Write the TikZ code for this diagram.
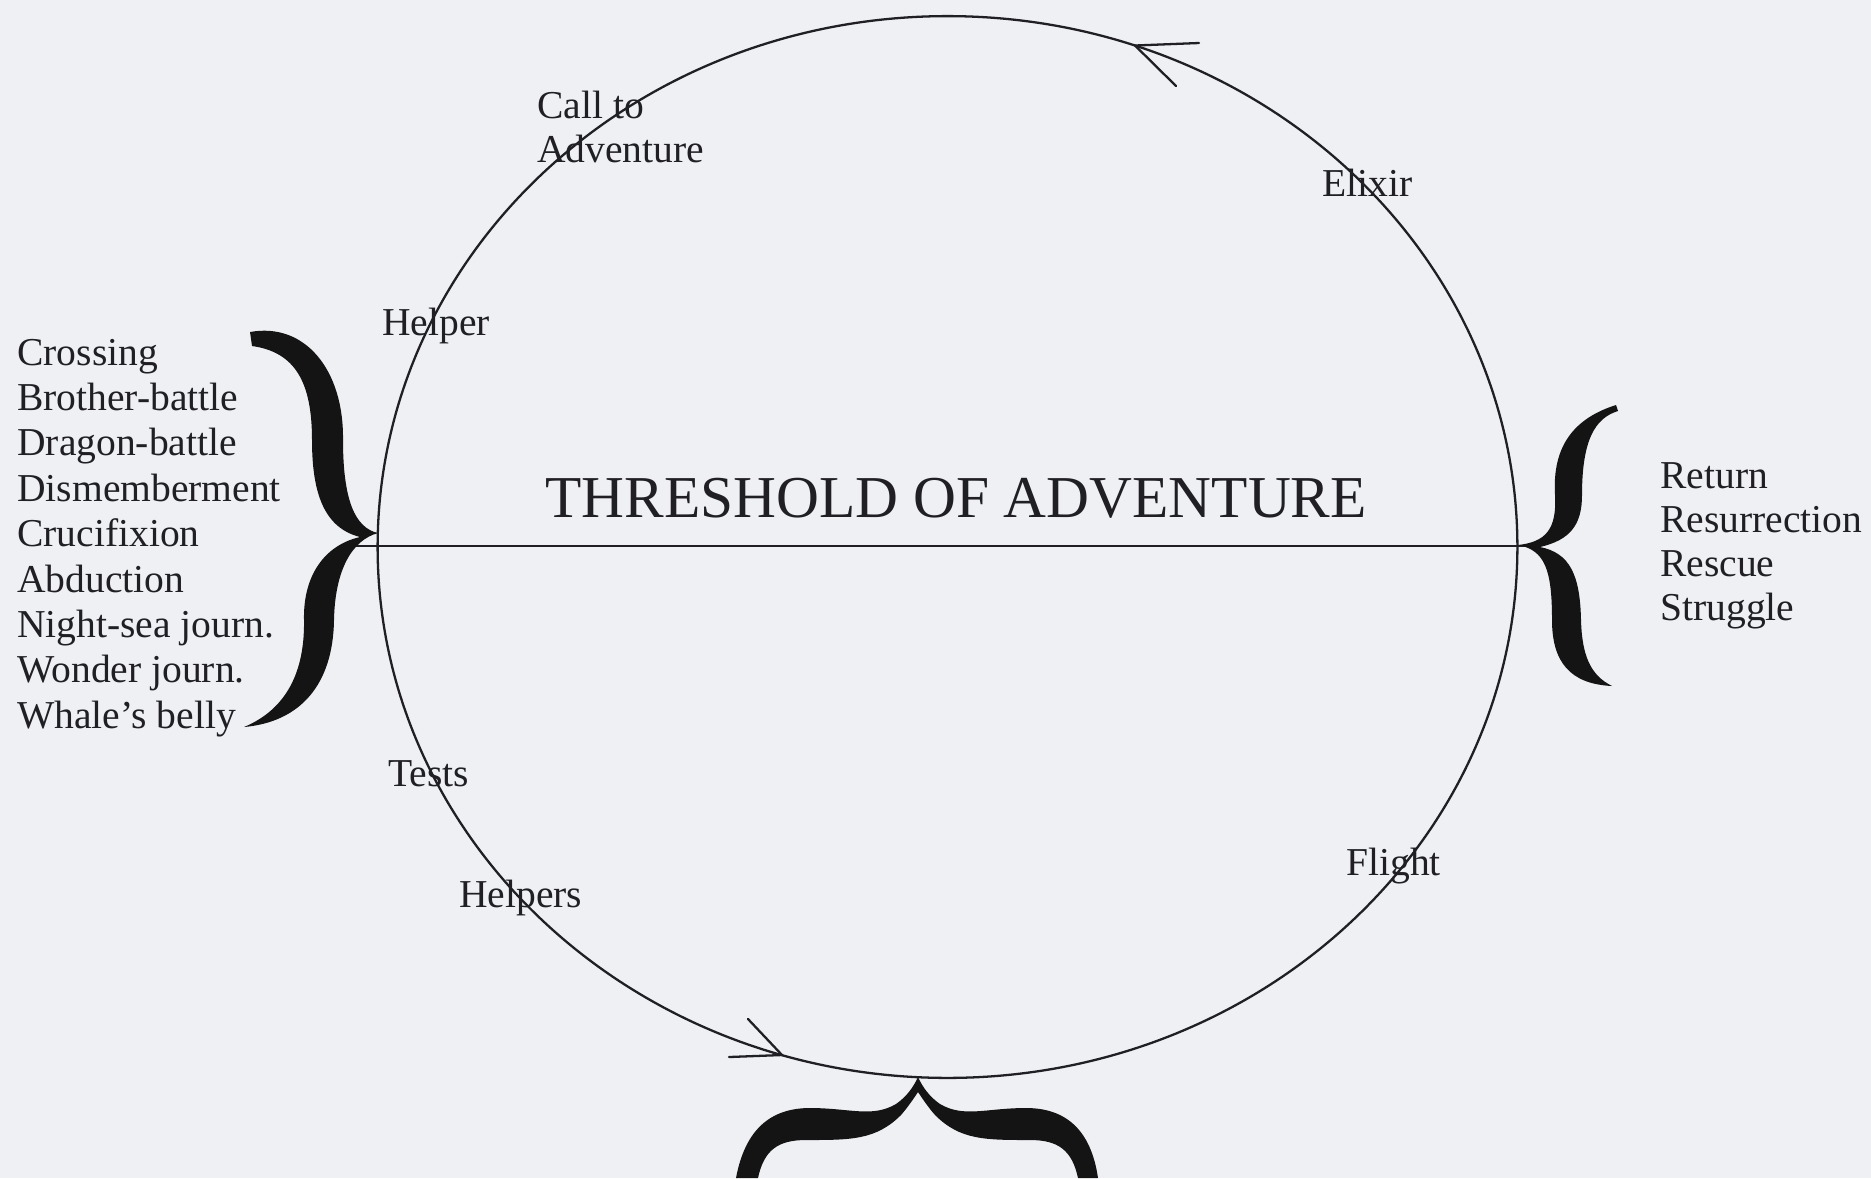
\documentclass[tikz,border=0pt]{standalone}
\usepackage{fontspec}
\setmainfont{Liberation Serif}
\definecolor{paper}{RGB}{238,240,243}
\definecolor{ink}{RGB}{32,32,36}
\begin{document}
\begin{tikzpicture}[x=0.02cm,y=-0.02cm,
  lbl/.style={inner sep=0pt, anchor=base west, text=ink, font=\fontsize{22.5}{26}\selectfont},
  ttl/.style={inner sep=0pt, anchor=base west, text=ink, font=\fontsize{33.8}{40}\selectfont},
  wire/.style={draw=ink, line width=1.3pt},
  barb/.style={draw=ink, line width=1.3pt, line cap=round},
  bracefill/.style={fill=black!92, draw=none}]
\fill[paper] (0,0) rectangle (1871,1178);
\useasboundingbox (0,0) rectangle (1871,1178);

% circle of the journey
\coordinate (C) at (947.5,547);
\draw[wire] (C) ellipse [x radius=11.4cm, y radius=10.62cm];

% threshold line
\coordinate (thL) at (353,546);
\coordinate (thR) at (1530,546);
\draw[wire] (thL) -- (thR);

% arrowheads
\coordinate (topTip) at (1135,45.5);
\coordinate (topB1) at (1199,43);
\coordinate (topB2) at (1176,86);
\draw[barb] (topB1) -- (topTip) -- (topB2);
\coordinate (botTip) at (782,1055);
\coordinate (botB1) at (729,1057);
\coordinate (botB2) at (748,1019);
\draw[barb] (botB1) -- (botTip) -- (botB2);

% left brace
\fill[bracefill] (250,332)
 .. controls (305,322) and (344,370) .. (343,440)
 .. controls (343,500) and (355,528) .. (378,533)
 .. controls (352,540) and (335,570) .. (334,620)
 .. controls (333,685) and (300,722) .. (244,727)
 .. controls (280,712) and (305,680) .. (304,620)
 .. controls (303,575) and (325,545) .. (360,537)
 .. controls (325,528) and (312,495) .. (312,440)
 .. controls (312,382) and (295,352) .. (252,346) -- cycle;

% right brace
\fill[bracefill] (1616,405)
 .. controls (1575,418) and (1552,445) .. (1555,495)
 .. controls (1557,530) and (1545,542) .. (1518,545)
 .. controls (1545,550) and (1552,570) .. (1552,620)
 .. controls (1552,662) and (1570,684) .. (1612,686)
 .. controls (1590,675) and (1582,655) .. (1581,620)
 .. controls (1580,575) and (1570,553) .. (1540,547)
 .. controls (1570,540) and (1582,525) .. (1582,495)
 .. controls (1582,440) and (1595,418) .. (1618,411) -- cycle;

% bottom brace
\fill[bracefill] (736,1178)
 .. controls (745,1130) and (770,1108) .. (810,1108)
 .. controls (850,1108) and (872,1118) .. (896,1104)
 .. controls (906,1097) and (913,1088) .. (918,1077)
 .. controls (923,1088) and (930,1097) .. (940,1104)
 .. controls (964,1118) and (986,1108) .. (1026,1108)
 .. controls (1066,1108) and (1091,1130) .. (1098,1178)
 -- (1078,1178)
 .. controls (1072,1150) and (1058,1140) .. (1030,1140)
 .. controls (985,1140) and (960,1140) .. (935,1115)
 .. controls (928,1107) and (922,1098) .. (918,1092)
 .. controls (914,1098) and (908,1107) .. (901,1115)
 .. controls (876,1140) and (851,1140) .. (806,1140)
 .. controls (778,1140) and (764,1150) .. (758,1178) -- cycle;

% texts
\node[ttl] (thr) at (545,517) {THRESHOLD OF ADVENTURE};
\node[lbl] (call1) at (537,118) {Call to};
\node[lbl] (call2) at (537,162) {Adventure};
\node[lbl] (elix) at (1322,196) {Elixir};
\node[lbl] (help) at (382,335) {Helper};
\node[lbl] (tests) at (388,786) {Tests};
\node[lbl] (helps) at (459,907) {Helpers};
\node[lbl] (flight) at (1346,875) {Flight};

\foreach \t [count=\i] in {Crossing, Brother-battle, Dragon-battle, Dismemberment, Crucifixion, Abduction, Night-sea journ., Wonder journ., Whale's belly}
  \node[lbl] (L\i) at (17,{365+45.4*(\i-1)}) {\t};

\foreach \t [count=\i] in {Return, Resurrection, Rescue, Struggle}
  \node[lbl] (R\i) at (1660,{488+44*(\i-1)}) {\t};
\end{tikzpicture}
\end{document}
